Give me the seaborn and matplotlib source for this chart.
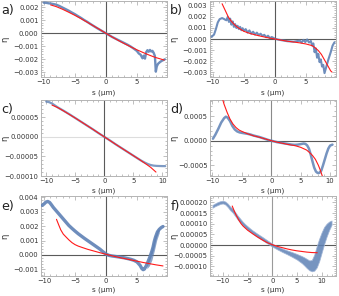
import numpy as np
import pandas as pd
import seaborn as sns
import matplotlib.pyplot as plt
from matplotlib.ticker import MultipleLocator, FuncFormatter

# ---------------- data ----------------
# a) eta in units of 1e-3
a_blue_x = [-10.0, -9.6, -9.2, -8.8, -8.4, -8.0, -7.5, -7.0, -6.5, -6.0, -5.5, -5.0, -4.5, -4.0,
            -3.5, -3.0, -2.5, -2.0, -1.5, -1.0, -0.5, 0.0, 0.5, 1.0, 1.5, 2.0, 2.5, 3.0, 3.5, 4.0,
            4.5, 5.0, 5.3, 5.6, 5.9, 6.1, 6.3, 6.5, 6.7, 6.9, 7.1, 7.3, 7.5, 7.7, 7.9, 8.05, 8.2,
            8.4, 8.7, 9.0, 9.3, 9.5]
a_blue_y = [2.35, 2.34, 2.30, 2.28, 2.24, 2.20, 2.10, 1.98, 1.86, 1.74, 1.60, 1.47, 1.32, 1.18,
            1.02, 0.88, 0.72, 0.57, 0.42, 0.28, 0.14, 0.0, -0.14, -0.28, -0.40, -0.52, -0.64, -0.76,
            -0.88, -1.02, -1.18, -1.36, -1.55, -1.65, -1.92, -1.72, -1.95, -1.45, -1.30, -1.42,
            -1.28, -1.40, -1.35, -1.50, -1.75, -2.95, -2.55, -2.35, -2.22, -2.12, -2.05, -2.00]
a_red_x = [-8.9, -8.0, -7.0, -6.0, -5.0, -4.0, -3.0, -2.0, -1.0, 0.0, 1.0, 2.0, 3.0, 4.0, 5.0,
           6.0, 7.0, 8.0, 9.0, 9.4]
a_red_y = [2.18, 2.05, 1.85, 1.62, 1.38, 1.12, 0.85, 0.57, 0.29, 0.0, -0.28, -0.55, -0.80, -1.04,
           -1.27, -1.48, -1.68, -1.86, -2.00, -2.06]

# b) eta in units of 1e-3
b_blue_x = [-10.2, -9.8, -9.5, -9.2, -8.9, -8.5, -8.2, -8.0, -7.8, -7.6, -7.4, -7.2, -7.0, -6.8,
            -6.6, -6.4, -6.2, -6.0, -5.8, -5.6, -5.4, -5.2, -5.0, -4.7, -4.4, -4.1, -3.8, -3.5,
            -3.2, -2.9, -2.6, -2.3, -2.0, -1.7, -1.4, -1.1, -0.8, -0.5, 0.0, 0.5, 1.0, 1.5, 2.0,
            2.5, 3.0, 3.5, 4.0, 4.3, 4.6, 4.9, 5.2, 5.5, 5.8, 6.0, 6.2, 6.4, 6.6, 6.8, 7.0, 7.2,
            7.4, 7.6, 7.8, 8.0, 8.3, 8.6, 9.0, 9.3, 9.6]
b_blue_y = [0.20, 0.40, 0.90, 1.50, 1.80, 1.90, 1.82, 1.75, 1.70, 2.00, 1.55, 1.85, 1.30, 1.60,
            1.10, 1.35, 1.00, 1.20, 0.90, 1.10, 0.80, 0.98, 0.75, 0.90, 0.58, 0.78, 0.48, 0.66,
            0.40, 0.58, 0.35, 0.48, 0.28, 0.38, 0.16, 0.30, 0.08, 0.18, 0.03, -0.05, -0.10, -0.15,
            -0.20, -0.22, -0.25, -0.20, -0.15, -0.32, -0.08, -0.28, -0.04, -0.32, -0.18, -0.60,
            -0.40, -1.20, -0.85, -1.70, -1.35, -2.10, -1.85, -2.50, -2.35, -3.10, -2.50, -1.90,
            -1.20, -0.60, -0.30]
b_red_x = [-8.5, -8.0, -7.5, -7.0, -6.5, -6.0, -5.0, -4.0, -3.0, -2.0, -1.0, 0.0, 1.0, 2.0, 3.0,
           4.0, 5.0, 6.0, 6.5, 7.0, 7.5, 8.0, 8.5, 9.0, 9.2]
b_red_y = [3.20, 2.60, 2.00, 1.60, 1.30, 1.05, 0.70, 0.50, 0.35, 0.22, 0.10, 0.0, -0.10, -0.20,
           -0.27, -0.35, -0.45, -0.60, -0.80, -1.05, -1.40, -1.90, -2.40, -2.90, -3.00]

# c) eta in units of 1e-5
c_blue_x = [-10.0, -9.5, -9.0, -8.5, -8.0, -7.0, -6.0, -5.0, -4.0, -3.0, -2.0, -1.0, 0.0, 1.0,
            2.0, 3.0, 4.0, 5.0, 6.0, 6.5, 7.0, 7.5, 8.0, 8.5, 9.0, 9.5, 10.0, 10.5]
c_blue_y = [9.0, 8.85, 8.5, 8.0, 7.5, 6.65, 5.75, 4.8, 3.85, 2.9, 1.95, 0.95, 0.0, -0.95, -1.95,
            -2.9, -3.85, -4.8, -5.75, -6.2, -6.6, -6.95, -7.2, -7.35, -7.42, -7.45, -7.47, -7.48]
c_red_x = [-9.0, -8.0, -7.0, -6.0, -5.0, -4.0, -3.0, -2.0, -1.0, 0.0, 1.0, 2.0, 3.0, 4.0, 5.0,
           6.0, 7.0, 8.0, 8.9]
c_red_y = [8.1, 7.45, 6.6, 5.7, 4.8, 3.85, 2.9, 1.95, 0.97, 0.0, -0.97, -1.95, -2.9, -3.85, -4.8,
           -5.75, -6.75, -7.8, -9.0]

# d) eta in units of 1e-4
d_blue_x = [-9.9, -9.5, -9.0, -8.5, -8.0, -7.7, -7.4, -7.0, -6.6, -6.2, -5.8, -5.4, -5.0, -4.5,
            -4.0, -3.5, -3.0, -2.5, -2.0, -1.5, -1.0, -0.5, 0.0, 0.5, 1.0, 1.5, 2.0, 2.5, 3.0,
            3.5, 4.0, 4.5, 5.0, 5.5, 5.8, 6.1, 6.4, 6.7, 7.0, 7.3, 7.6, 7.9, 8.2, 8.5, 8.8, 9.1,
            9.4, 9.7, 10.0, 10.4]
d_blue_y = [0.4, 1.2, 2.4, 3.7, 4.6, 4.9, 4.7, 4.0, 3.0, 2.3, 1.9, 1.7, 1.6, 1.5, 1.4, 1.25,
            1.05, 0.9, 0.75, 0.55, 0.35, 0.15, 0.0, -0.15, -0.3, -0.4, -0.5, -0.6, -0.7, -0.8,
            -0.85, -0.8, -0.7, -0.58, -0.65, -0.95, -1.6, -2.8, -4.2, -5.5, -6.3, -6.6, -6.55,
            -6.1, -5.0, -3.8, -2.6, -1.6, -1.0, -0.8]
d_red_x = [-8.2, -8.0, -7.5, -7.0, -6.5, -6.0, -5.5, -5.0, -4.0, -3.0, -2.0, -1.0, 0.0, 1.0, 2.0,
           3.0, 4.0, 5.0, 6.0, 6.5, 7.0, 7.5, 8.0, 8.3, 8.7]
d_red_y = [8.2, 7.4, 5.8, 4.4, 3.4, 2.7, 2.2, 1.9, 1.4, 1.0, 0.7, 0.35, 0.0, -0.3, -0.55, -0.8,
           -1.0, -1.35, -1.9, -2.4, -3.0, -3.8, -5.0, -5.9, -7.3]

# e) eta in units of 1e-3
e_blue_x = [-10.3, -10.0, -9.7, -9.4, -9.1, -8.8, -8.5, -8.0, -7.5, -7.0, -6.5, -6.0, -5.5, -5.0,
            -4.5, -4.0, -3.5, -3.0, -2.5, -2.0, -1.5, -1.0, -0.5, 0.0, 0.5, 1.0, 2.0, 3.0, 4.0,
            4.5, 5.0, 5.5, 5.8, 6.0, 6.2, 6.5, 6.8, 7.1, 7.4, 7.6, 7.8, 8.0, 8.3, 8.6, 8.9, 9.2]
e_blue_y = [3.45, 3.55, 3.68, 3.72, 3.65, 3.48, 3.30, 3.05, 2.80, 2.55, 2.30, 2.05, 1.85, 1.66,
            1.48, 1.32, 1.16, 1.01, 0.86, 0.71, 0.56, 0.41, 0.23, 0.06, -0.03, -0.07, -0.13,
            -0.20, -0.30, -0.37, -0.48, -0.72, -0.95, -1.02, -0.98, -0.75, -0.45, -0.12, 0.25,
            0.55, 0.95, 1.25, 1.60, 1.78, 1.90, 1.98]
e_scat_x = [6.6, 7.0, 7.4, 7.8, 8.2, 8.6]
e_scat_lo = [-0.95, -0.75, -0.35, 0.30, 1.05, 1.55]
e_scat_hi = [-0.55, -0.05, 0.55, 1.25, 1.70, 1.90]
e_red_x = [-8.0, -7.6, -7.3, -6.9, -6.5, -6.0, -5.5, -5.0, -4.5, -3.9, -3.0, -2.0, -1.0, 0.0, 1.0,
           2.0, 3.0, 4.0, 5.0, 6.0, 7.0, 8.0, 9.2]
e_red_y = [2.48, 2.05, 1.74, 1.45, 1.27, 1.05, 0.86, 0.72, 0.62, 0.53, 0.40, 0.28, 0.16, 0.05,
           -0.06, -0.16, -0.25, -0.34, -0.43, -0.52, -0.60, -0.68, -0.76]

# f) eta in units of 1e-5 (scatter band: lower / upper edge)
f_x = [-12.1, -11.5, -11.0, -10.5, -10.0, -9.5, -9.0, -8.5, -8.0, -7.5, -7.0, -6.5, -6.0, -5.5,
       -5.0, -4.5, -4.0, -3.0, -2.0, -1.0, 0.0, 1.0, 2.0, 3.0, 4.0, 5.0, 6.0, 6.5, 7.0, 7.5, 8.0,
       8.5, 9.0, 9.5, 10.0, 10.5, 11.0, 11.5, 12.0]
f_lo = [17.5, 18.3, 18.8, 19.3, 19.5, 19.0, 17.8, 16.3, 15.2, 13.6, 12.0, 10.6, 9.3, 8.2, 7.2,
        6.3, 5.4, 3.8, 2.3, 0.8, -0.7, -2.0, -3.2, -4.3, -5.5, -6.8, -8.5, -9.6, -10.8, -11.8,
        -12.3, -12.0, -10.5, -7.5, -3.5, 0.5, 4.0, 7.0, 9.5]
f_hi = [18.8, 19.6, 20.2, 20.6, 20.8, 20.4, 19.4, 18.0, 17.0, 15.4, 13.8, 12.4, 11.0, 9.8, 8.8,
        7.8, 6.9, 5.3, 3.8, 2.2, 0.7, -0.6, -1.6, -2.5, -3.3, -4.2, -5.2, -5.8, -6.5, -7.2, -7.0,
        -4.5, -0.5, 3.0, 6.0, 8.5, 10.0, 11.0, 11.5]
f_red_x = [-8.1, -7.7, -7.3, -6.8, -6.3, -5.9, -5.0, -3.9, -3.0, -2.0, -1.0, 0.0, 1.0, 2.0, 3.0,
           4.0, 5.0, 6.0, 7.0, 8.0, 9.1]
f_red_y = [18.3, 16.0, 14.0, 11.8, 10.0, 8.9, 7.0, 5.2, 3.8, 2.4, 1.1, 0.2, -0.6, -1.2, -1.8,
           -2.3, -2.7, -3.0, -3.3, -3.5, -3.6]

# ---------------- styling ----------------
sns.set_theme(style="ticks")
plt.rcParams['font.family'] = ['DejaVu Sans']
BLUE = '#5e81b5'
RED = '#ff1a1a'
FRAME = '#b4b4b4'
AXLINE = '#5a5a5a'

W, H = 339, 296
fig = plt.figure(figsize=(W / 100, H / 100), dpi=100)


def make_ax(left, top, bottom):
    return fig.add_axes([left / W, 1 - bottom / H, 126 / W, (bottom - top) / H])


def fmt(dec):
    def f(v, pos):
        if abs(v) < 1e-12:
            v = 0.0
        return f"{v:.{dec}f}".replace('-', '\u2212')
    return FuncFormatter(f)


def style(ax, xlim, ylim, ymaj, ymin, dec, letter, xlab_y, hline=AXLINE, vline=AXLINE):
    ax.set_xlim(*xlim)
    ax.set_ylim(*ylim)
    ax.axhline(0, color=hline, lw=0.8, zorder=1)
    ax.axvline(0, color=vline, lw=0.8, zorder=1)
    ax.xaxis.set_major_locator(MultipleLocator(5))
    ax.xaxis.set_minor_locator(MultipleLocator(1))
    ax.yaxis.set_major_locator(MultipleLocator(ymaj))
    ax.yaxis.set_minor_locator(MultipleLocator(ymin))
    ax.yaxis.set_major_formatter(fmt(dec))
    ax.xaxis.set_major_formatter(fmt(0))
    ax.tick_params(which='both', direction='in', top=True, right=True, color=FRAME,
                   labelsize=4.9, labelcolor='#333333', width=0.6)
    ax.tick_params(which='major', length=2.8)
    ax.tick_params(which='minor', length=1.5)
    ax.tick_params(axis='x', pad=1.5)
    ax.tick_params(axis='y', pad=1.8)
    for s in ax.spines.values():
        s.set_color(FRAME)
        s.set_linewidth(0.7)
    ax.set_xlabel('s (μm)', fontsize=5.2, color='#333333')
    ax.set_ylabel('η', fontsize=6, color='#333333')
    ax.xaxis.set_label_coords(0.5, xlab_y)
    ax.yaxis.set_label_coords(-0.25, 0.5)
    ax.text(-0.315, 0.87, letter, transform=ax.transAxes, fontsize=9.2, color='#222222',
            ha='left', va='center')


def line(ax, x, y, scale, color, lw, alpha=1.0, z=3):
    sns.lineplot(x=np.array(x), y=np.array(y) * scale, ax=ax, color=color, lw=lw, alpha=alpha,
                 estimator=None, sort=False, legend=False, zorder=z)


# a
ax = make_ax(41, 1, 77)
line(ax, a_blue_x, a_blue_y, 1e-3, BLUE, 1.7, 0.9)
line(ax, a_red_x, a_red_y, 1e-3, RED, 0.8)
style(ax, (-10.45, 9.85), (-0.00336, 0.00248), 0.001, 0.0002, 3, 'a)', -0.16)

# b
ax = make_ax(210, 1, 77)
line(ax, b_blue_x, b_blue_y, 1e-3, BLUE, 1.5, 0.9)
line(ax, b_red_x, b_red_y, 1e-3, RED, 0.8)
style(ax, (-10.45, 9.85), (-0.00345, 0.00345), 0.001, 0.0002, 3, 'b)', -0.16)

# c
ax = make_ax(41, 100, 176)
line(ax, c_blue_x, c_blue_y, 1e-5, BLUE, 1.6, 0.8)
line(ax, c_red_x, c_red_y, 1e-5, RED, 0.8)
style(ax, (-10.9, 10.8), (-1.0e-4, 9.4e-5), 5e-5, 1e-5, 5, 'c)', -0.155, hline='#dddddd')

# d
ax = make_ax(210, 100, 176)
line(ax, d_blue_x, d_blue_y, 1e-4, BLUE, 1.8, 0.85)
line(ax, d_red_x, d_red_y, 1e-4, RED, 0.8)
style(ax, (-10.4, 11.0), (-0.00072, 0.00083), 0.0005, 0.0001, 4, 'd)', -0.155, vline='#8a8a8a')

# e
ax = make_ax(41, 196, 276)
ax.fill_between(e_scat_x, np.array(e_scat_lo) * 1e-3, np.array(e_scat_hi) * 1e-3,
                color=BLUE, alpha=0.7, lw=0, zorder=2)
line(ax, e_blue_x, e_blue_y, 1e-3, BLUE, 2.4, 0.9)
line(ax, e_red_x, e_red_y, 1e-3, RED, 0.8)
style(ax, (-10.5, 9.85), (-0.00146, 0.0041), 0.001, 0.0002, 3, 'e)', -0.13)

# f
ax = make_ax(210, 196, 276)
ax.fill_between(f_x, np.array(f_lo) * 1e-5, np.array(f_hi) * 1e-5, color=BLUE, alpha=0.85,
                lw=0.6, edgecolor='#9fb4d6', zorder=2)
line(ax, f_red_x, f_red_y, 1e-5, RED, 0.8)
style(ax, (-12.6, 12.9), (-1.45e-4, 2.3e-4), 5e-5, 1e-5, 5, 'f)', -0.13, vline='#9a9a9a')

fig.savefig('out.png', dpi=100)
